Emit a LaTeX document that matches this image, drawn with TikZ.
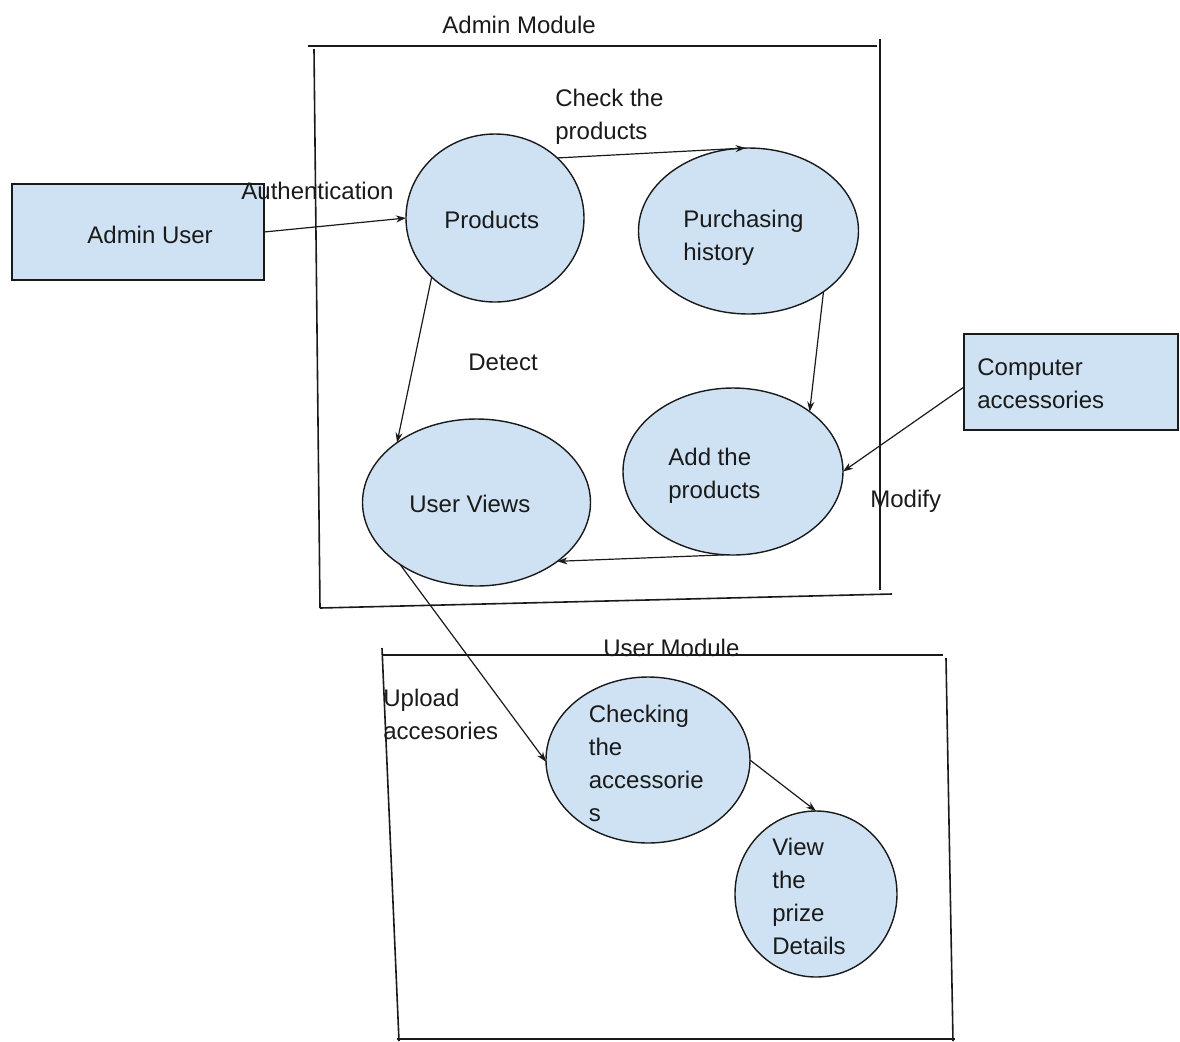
\documentclass[tikz,border=0pt]{standalone}
\usepackage{fontspec}
\setmainfont{Liberation Sans}
\usetikzlibrary{shapes.geometric,arrows.meta}
\definecolor{boxfill}{HTML}{CFE2F3}
\definecolor{ink}{HTML}{1A1A1A}
\begin{document}
\begin{tikzpicture}[x=0.5pt,y=-0.5pt,
  font=\fontsize{12}{16.5}\selectfont,
  proc/.style={ellipse,draw=ink,line width=0.7pt,fill=boxfill,inner sep=0pt,outer sep=0pt},
  ent/.style={rectangle,draw=ink,line width=0.7pt,fill=boxfill,inner sep=0pt,outer sep=0pt},
  lbl/.style={inner sep=0pt,anchor=base west,align=left,text=ink},
  flow/.style={draw=ink,line width=0.6pt,-{Stealth[length=5pt,width=3.5pt]}},
  frame/.style={draw=ink,line width=0.8pt}]
\useasboundingbox (0,0) rectangle (1180,1041);
% Admin module frame
\draw[frame] (308,46) -- (877,46);
\draw[frame] (314,49) -- (320,608);
\draw[frame] (880,39) -- (880,590);
\draw[frame] (320,608) -- (892,594);
% User module frame
\draw[frame] (383,655) -- (943,655);
\draw[frame] (382,648) -- (399,1041);
\draw[frame] (946,658) -- (953,1041);
\draw[frame] (397,1039) -- (955,1039);
% entities
\node[ent,minimum width=126pt,minimum height=48pt] (au) at (138,232) {};
\node[ent,minimum width=107pt,minimum height=48pt] (ca) at (1071,382) {};
% processes
\node[proc,minimum width=89pt,minimum height=84pt] (prod) at (495,218) {};
\node[proc,minimum width=110pt,minimum height=83pt] (ph) at (748.5,231) {};
\node[proc,minimum width=114pt,minimum height=83.5pt] (uv) at (476.5,502.5) {};
\node[proc,minimum width=110pt,minimum height=83.5pt] (add) at (733,471.5) {};
\node[proc,minimum width=102pt,minimum height=83pt] (ck) at (648,760) {};
\node[proc,minimum width=81pt,minimum height=83pt] (vw) at (816,894) {};
% flows
\draw[flow] (au.east) -- (prod.west);
\draw[flow] (prod.44) -- (ph.92);
\draw[flow] (prod.223.6) -- (uv.143.2);
\draw[flow] (ph.321) -- (add.38.3);
\draw[flow] ([yshift=-2.5pt]ca.west) -- (add.east);
\draw[flow] (add.265) -- (uv.324.2);
\draw[flow] (uv.219) -- (ck.181);
\draw[flow] (ck.east) -- (vw.north);
% texts (multi-line nodes are placed at the baseline of their last line)
\node[lbl] (tAdminMod) at (442,33) {Admin Module};
\node[lbl] (tCheck) at (555,139) {Check the\\products};
\node[lbl] (tAuth) at (241,199) {Authentication};
\node[lbl] (tAU) at (87,243) {Admin User};
\node[lbl] (tProd) at (444,228) {Products};
\node[lbl] (tPH) at (683,260) {Purchasing\\history};
\node[lbl] (tDet) at (468,370) {Detect};
\node[lbl] (tUV) at (409,512) {User Views};
\node[lbl] (tAdd) at (668,498) {Add the\\products};
\node[lbl] (tMod) at (870,507) {Modify};
\node[lbl] (tCA) at (977,408) {Computer\\accessories};
\node[lbl] (tUM) at (603,656) {User Module};
\node[lbl] (tUp) at (383,739) {Upload\\accesories};
\node[lbl] (tCK) at (588.5,821) {Checking\\the\\accessorie\\s};
\node[lbl] (tVW) at (772,954) {View\\the\\prize\\Details};
\end{tikzpicture}
\end{document}
